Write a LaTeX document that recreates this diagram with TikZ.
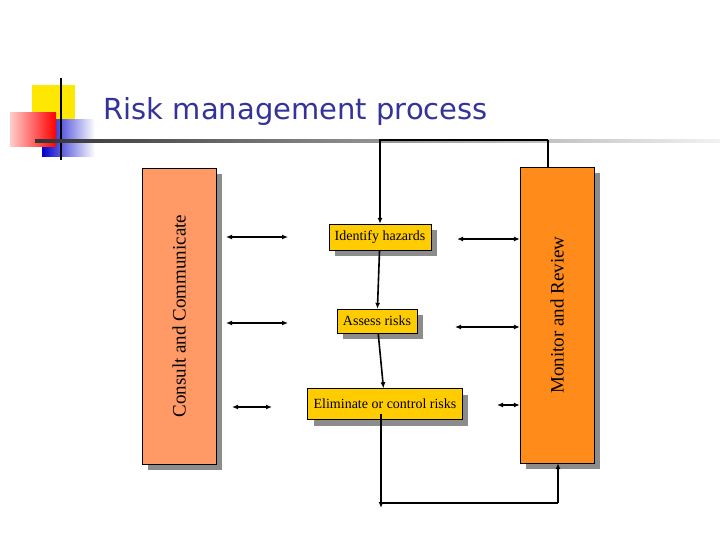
\documentclass[tikz,border=0pt]{standalone}
\usepackage{fontspec}
\setmainfont{Liberation Serif}
\newfontfamily\titlefont{DejaVu Sans}
\usetikzlibrary{arrows.meta,shadows}
\definecolor{titleblue}{HTML}{333399}
\definecolor{stageyellow}{HTML}{FFCC00}
\definecolor{sidesalmon}{HTML}{FF9966}
\definecolor{sideorange}{HTML}{FF8C1A}
\tikzset{
  stage/.style={draw=black, fill=stageyellow, inner xsep=6pt, minimum height=26pt,
    font=\fontsize{14}{16}\selectfont, drop shadow={shadow xshift=6pt, shadow yshift=-6pt, fill=black!45, opacity=1}},
  side/.style={draw=black, minimum width=74pt, minimum height=296pt,
    drop shadow={shadow xshift=6pt, shadow yshift=-6pt, fill=black!45, opacity=1}},
  sidetext/.style={rotate=90, font=\fontsize{19}{22}\selectfont},
  flow/.style={-{Latex[length=6pt,width=5pt]}, line width=1.6pt},
  both/.style={{Latex[length=6pt,width=5pt]}-{Latex[length=6pt,width=5pt]}, line width=1.6pt}
}
\begin{document}
\begin{tikzpicture}[x=1pt,y=-1pt]
\useasboundingbox (0,0) rectangle (720,540);
% Logo
\fill[yellow!90!orange] (32,85) rectangle (75,120);
\shade[left color=blue!80!black, right color=white] (42,120) rectangle (95,157);
\shade[left color=red!20, right color=red] (10,113) rectangle (56,147);
\draw[line width=2pt] (61,78) -- (61,160);
\shade[left color=black!80, right color=black!5] (35,140) rectangle (720,142.5);
\node[anchor=base west, text=titleblue, font=\titlefont\fontsize{29}{32}\selectfont] (title) at (100,120) {Risk management process};
% Seitenkaesten
\node[side, fill=sidesalmon] (consult) at (179,316) {};
\node[sidetext] at (consult) {Consult and Communicate};
\node[side, fill=sideorange] (monitor) at (557,315) {};
\node[sidetext] at (monitor) {Monitor and Review};
% Schritte
\node[stage] (identify) at (380,237) {Identify hazards};
\node[stage, minimum height=24pt] (assess) at (377,321) {Assess risks};
\node[stage, minimum height=31pt] (eliminate) at (385,404) {Eliminate or control risks};
% Hilfspunkte
\coordinate (topleft) at (380,140);
\coordinate (topright) at (548,140);
\coordinate (botleft) at (381,503);
\coordinate (botright) at (558,503);
% Pfeile
\draw[flow] (topright) -- (topleft) -- (identify.north);
\draw[line width=1.6pt] (topright) -- (monitor.north -| topright);
\draw[flow] (identify) -- (assess);
\draw[flow] (assess) -- (eliminate);
\draw[flow] ([yshift=6pt]eliminate.south -| botleft) -- ([yshift=-5pt]botleft);
\draw[line width=1.6pt] (botleft) -- (botright);
\draw[flow] (botright) -- (monitor.south -| botright);
\draw[both] (226,237) -- (288,237);
\draw[both] (226,323) -- (288,323);
\draw[both] (232,407) -- (272,407);
\draw[both] (457,239) -- (monitor.west |- 0,239);
\draw[both] (455,327) -- (monitor.west |- 0,327);
\draw[both] (497,405) -- (monitor.west |- 0,405);
\end{tikzpicture}
\end{document}
